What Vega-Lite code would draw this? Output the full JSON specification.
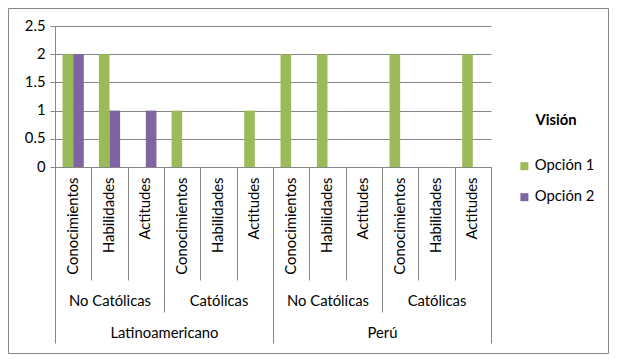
{
  "$schema": "https://vega.github.io/schema/vega-lite/v6.json",
  "width": 600,
  "height": 345,
  "autosize": {"type": "none"},
  "padding": {"left": 8, "top": 8, "right": 10, "bottom": 6},
  "background": "white",
  "config": {
    "view": {"stroke": "#868686", "strokeWidth": 1},
    "font": "Lato",
    "axis": {"labelFont": "Lato", "labelFontSize": 14.8, "labelColor": "#000000", "domainColor": "#868686", "tickColor": "#868686", "gridColor": "#868686"},
    "legend": {"labelFont": "Lato", "titleFont": "Lato"}
  },
  "data": {
    "values": [
      {"region": "Latinoamericano", "grp": "Latinoamericano|No Católicas", "cat": "Latinoamericano|No Católicas|Conocimientos", "series": "Opción 1", "value": 2},
      {"region": "Latinoamericano", "grp": "Latinoamericano|No Católicas", "cat": "Latinoamericano|No Católicas|Conocimientos", "series": "Opción 2", "value": 2},
      {"region": "Latinoamericano", "grp": "Latinoamericano|No Católicas", "cat": "Latinoamericano|No Católicas|Habilidades", "series": "Opción 1", "value": 2},
      {"region": "Latinoamericano", "grp": "Latinoamericano|No Católicas", "cat": "Latinoamericano|No Católicas|Habilidades", "series": "Opción 2", "value": 1},
      {"region": "Latinoamericano", "grp": "Latinoamericano|No Católicas", "cat": "Latinoamericano|No Católicas|Actitudes", "series": "Opción 1", "value": 0},
      {"region": "Latinoamericano", "grp": "Latinoamericano|No Católicas", "cat": "Latinoamericano|No Católicas|Actitudes", "series": "Opción 2", "value": 1},
      {"region": "Latinoamericano", "grp": "Latinoamericano|Católicas", "cat": "Latinoamericano|Católicas|Conocimientos", "series": "Opción 1", "value": 1},
      {"region": "Latinoamericano", "grp": "Latinoamericano|Católicas", "cat": "Latinoamericano|Católicas|Conocimientos", "series": "Opción 2", "value": 0},
      {"region": "Latinoamericano", "grp": "Latinoamericano|Católicas", "cat": "Latinoamericano|Católicas|Habilidades", "series": "Opción 1", "value": 0},
      {"region": "Latinoamericano", "grp": "Latinoamericano|Católicas", "cat": "Latinoamericano|Católicas|Habilidades", "series": "Opción 2", "value": 0},
      {"region": "Latinoamericano", "grp": "Latinoamericano|Católicas", "cat": "Latinoamericano|Católicas|Actitudes", "series": "Opción 1", "value": 1},
      {"region": "Latinoamericano", "grp": "Latinoamericano|Católicas", "cat": "Latinoamericano|Católicas|Actitudes", "series": "Opción 2", "value": 0},
      {"region": "Perú", "grp": "Perú|No Católicas", "cat": "Perú|No Católicas|Conocimientos", "series": "Opción 1", "value": 2},
      {"region": "Perú", "grp": "Perú|No Católicas", "cat": "Perú|No Católicas|Conocimientos", "series": "Opción 2", "value": 0},
      {"region": "Perú", "grp": "Perú|No Católicas", "cat": "Perú|No Católicas|Habilidades", "series": "Opción 1", "value": 2},
      {"region": "Perú", "grp": "Perú|No Católicas", "cat": "Perú|No Católicas|Habilidades", "series": "Opción 2", "value": 0},
      {"region": "Perú", "grp": "Perú|No Católicas", "cat": "Perú|No Católicas|Actitudes", "series": "Opción 1", "value": 0},
      {"region": "Perú", "grp": "Perú|No Católicas", "cat": "Perú|No Católicas|Actitudes", "series": "Opción 2", "value": 0},
      {"region": "Perú", "grp": "Perú|Católicas", "cat": "Perú|Católicas|Conocimientos", "series": "Opción 1", "value": 2},
      {"region": "Perú", "grp": "Perú|Católicas", "cat": "Perú|Católicas|Conocimientos", "series": "Opción 2", "value": 0},
      {"region": "Perú", "grp": "Perú|Católicas", "cat": "Perú|Católicas|Habilidades", "series": "Opción 1", "value": 0},
      {"region": "Perú", "grp": "Perú|Católicas", "cat": "Perú|Católicas|Habilidades", "series": "Opción 2", "value": 0},
      {"region": "Perú", "grp": "Perú|Católicas", "cat": "Perú|Católicas|Actitudes", "series": "Opción 1", "value": 2},
      {"region": "Perú", "grp": "Perú|Católicas", "cat": "Perú|Católicas|Actitudes", "series": "Opción 2", "value": 0}
    ]
  },
  "layer": [
    {
      "mark": {"type": "bar"},
      "encoding": {
        "x": {
          "field": "cat", "type": "nominal", "sort": null,
          "scale": {"range": [47, 483], "paddingInner": 0, "paddingOuter": 0},
          "axis": {"orient": "bottom", "offset": -186, "title": null, "tickBand": "extent", "tickSize": 113, "labelPadding": -103, "labelAngle": 270, "labelAlign": "right", "labelBaseline": "middle", "labelExpr": "split(datum.label, '|')[2]", "labelOverlap": false}
        },
        "xOffset": {"field": "series", "type": "nominal", "scale": {"paddingInner": 0, "paddingOuter": 0.71}},
        "y": {
          "field": "value", "type": "quantitative",
          "scale": {"domain": [0, 2.5], "range": [159, 18], "nice": false, "zero": true},
          "axis": {"orient": "left", "offset": -47, "title": null, "values": [0, 0.5, 1, 1.5, 2, 2.5], "grid": true, "tickSize": 5, "labelPadding": 5, "labelExpr": "datum.value + ''"}
        },
        "color": {
          "field": "series", "type": "nominal",
          "scale": {"domain": ["Opción 1", "Opción 2"], "range": ["#9BBB59", "#8064A2"]},
          "legend": {"title": "Visión", "orient": "none", "legendX": 509, "legendY": 105, "padding": 0, "titleAnchor": "middle", "titleFontSize": 14.8, "titleFontWeight": "bold", "titleColor": "#000000", "titlePadding": 31, "labelFontSize": 14.8, "labelColor": "#000000", "labelOffset": 3, "symbolType": "square", "symbolSize": 64, "symbolStrokeWidth": 0, "rowPadding": 15}
        }
      }
    },
    {
      "mark": {"type": "point", "opacity": 0},
      "encoding": {
        "x": {
          "field": "grp", "type": "nominal", "sort": null,
          "scale": {"range": [47, 483], "paddingInner": 0, "paddingOuter": 0},
          "axis": {"orient": "bottom", "offset": -186, "title": null, "domain": false, "tickBand": "extent", "tickSize": 145, "labelPadding": -11, "labelAngle": 0, "labelAlign": "center", "labelBaseline": "middle", "labelExpr": "split(datum.label, '|')[1]"}
        }
      }
    },
    {
      "mark": {"type": "point", "opacity": 0},
      "encoding": {
        "x": {
          "field": "region", "type": "nominal", "sort": null,
          "scale": {"range": [47, 483], "paddingInner": 0, "paddingOuter": 0},
          "axis": {"orient": "bottom", "offset": -186, "title": null, "domain": false, "tickBand": "extent", "tickSize": 176, "labelPadding": -10, "labelAngle": 0, "labelAlign": "center", "labelBaseline": "middle"}
        }
      }
    }
  ],
  "resolve": {"scale": {"x": "independent"}, "axis": {"x": "independent"}}
}
